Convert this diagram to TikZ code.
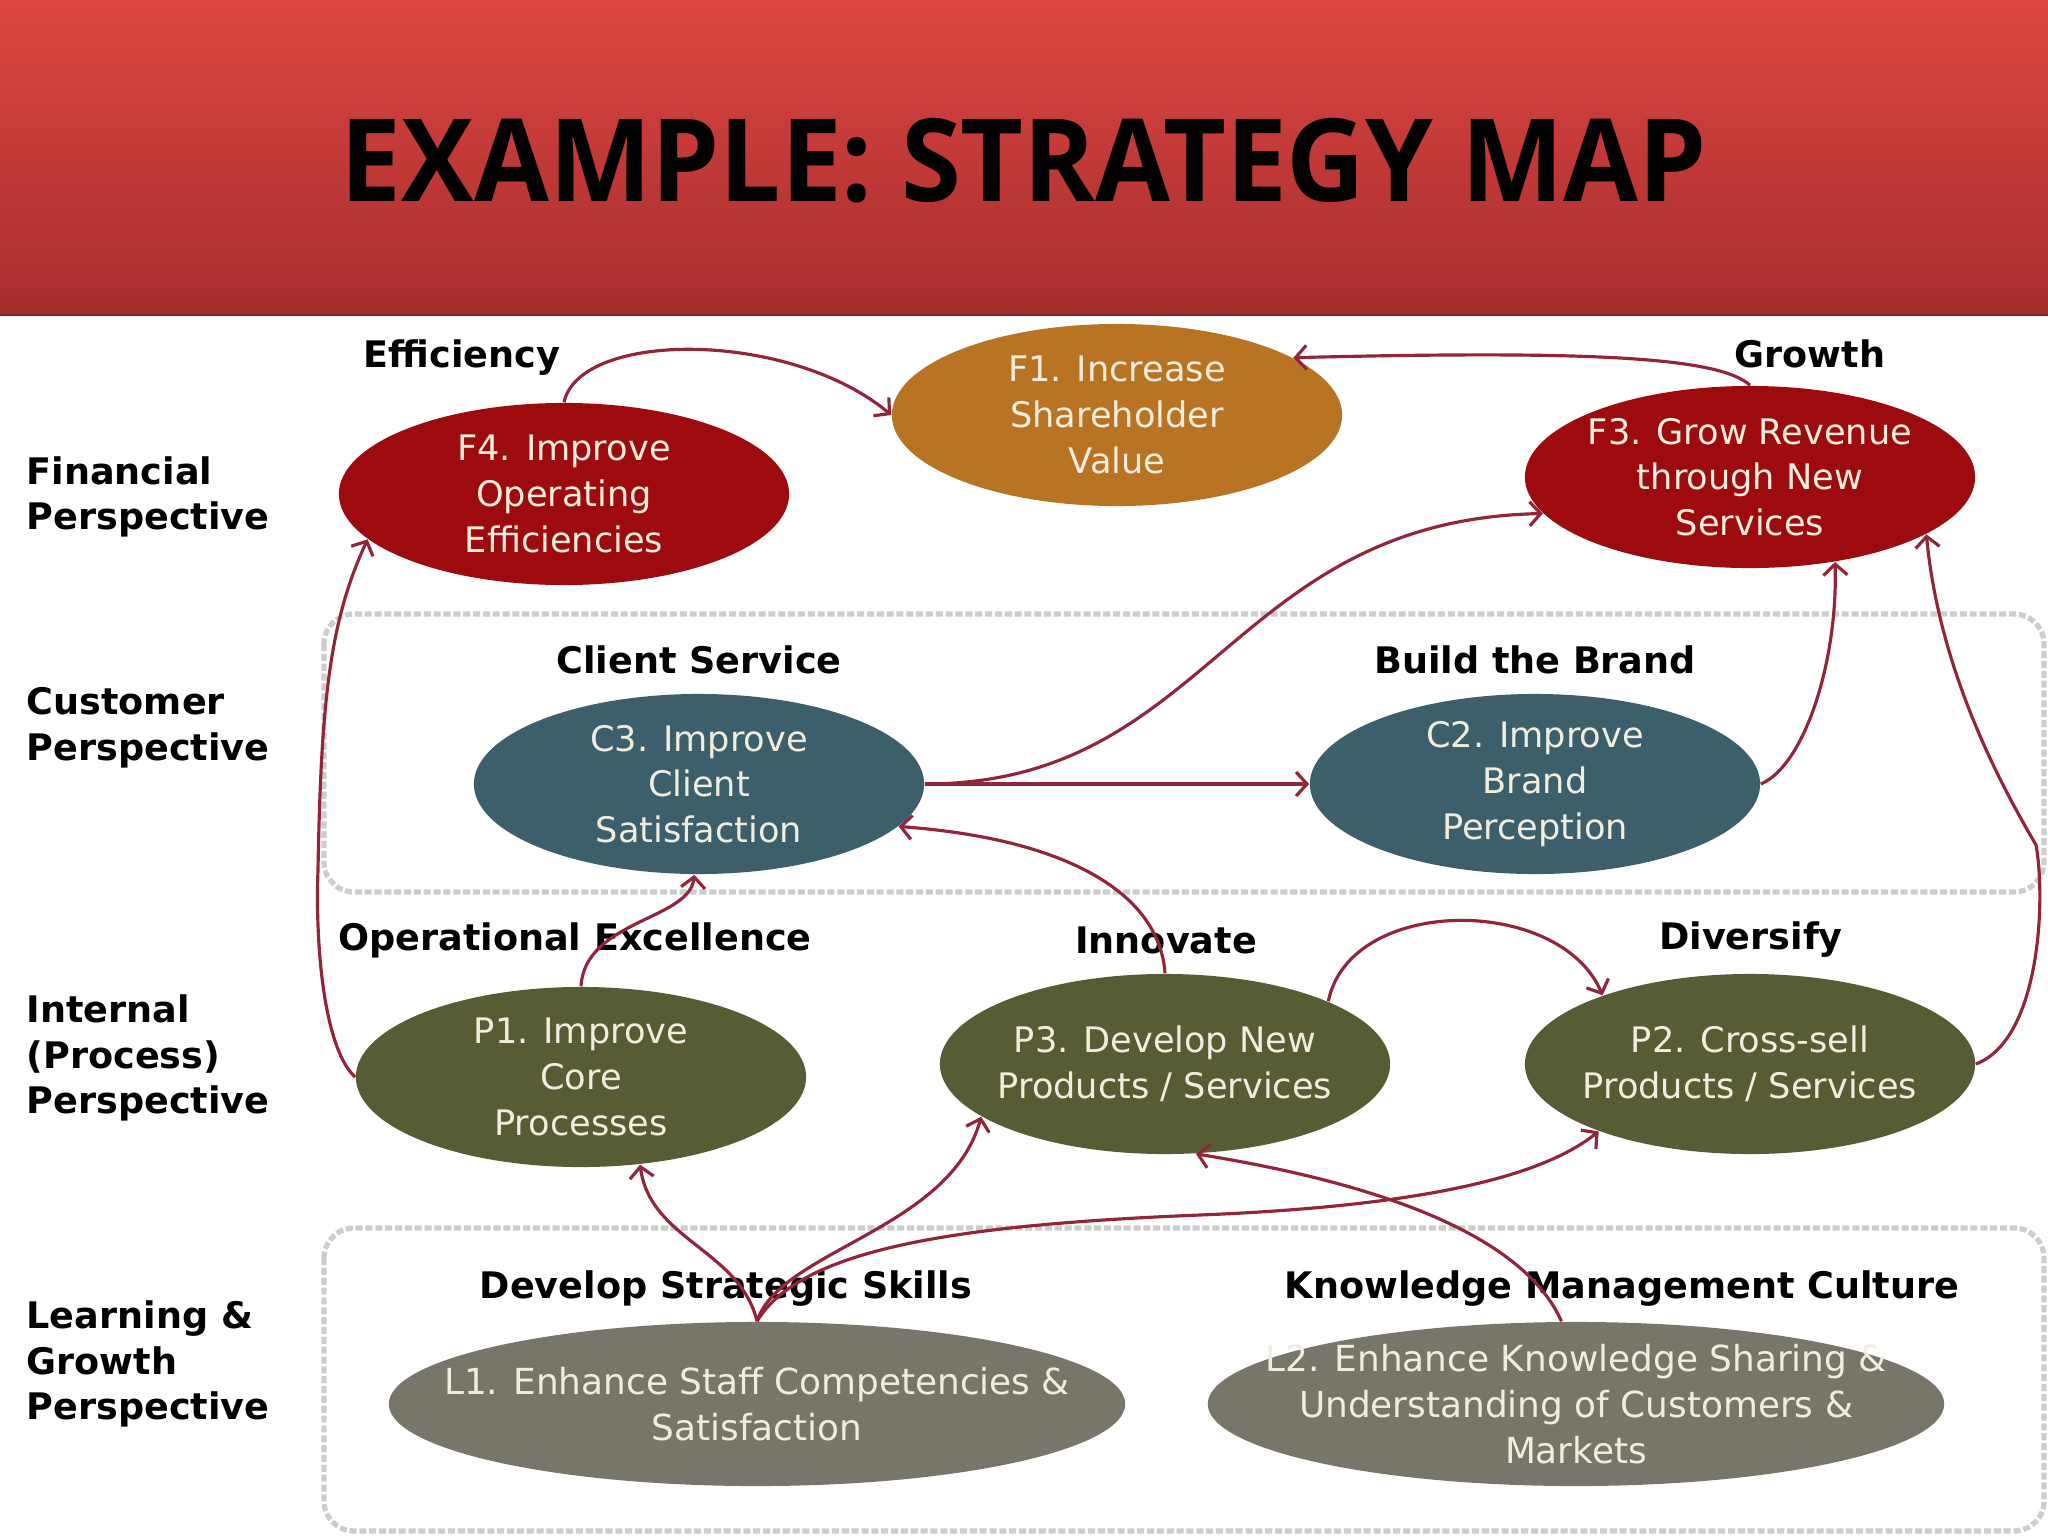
\documentclass[tikz,border=0pt]{standalone}
\usepackage{fontspec}
\setmainfont{DejaVu Sans}
\newfontfamily\titlefont{Open Sans}
\usetikzlibrary{shapes.geometric,arrows.meta}
\definecolor{fred}{RGB}{158,11,15}
\definecolor{fgold}{RGB}{184,115,35}
\definecolor{cteal}{RGB}{61,95,108}
\definecolor{polive}{RGB}{88,92,52}
\definecolor{lgray}{RGB}{120,118,106}
\definecolor{elltext}{RGB}{240,236,222}
\definecolor{connc}{RGB}{145,38,58}
\definecolor{boxc}{RGB}{205,205,205}
\definecolor{bartop}{RGB}{222,70,66}
\definecolor{barbot}{RGB}{165,45,45}
\begin{document}
\begin{tikzpicture}[x=0.01cm,y=-0.01cm,
  ell/.style={ellipse, inner sep=-8pt, text=elltext, align=center, font=\fontsize{10}{13}\selectfont},
  fnode/.style={ell, fill=fred, minimum width=4.5cm, minimum height=1.82cm},
  gnode/.style={ell, fill=fgold, minimum width=4.5cm, minimum height=1.82cm},
  cnode/.style={ell, fill=cteal, minimum width=4.5cm, minimum height=1.8cm},
  pnode/.style={ell, fill=polive, minimum width=4.5cm, minimum height=1.8cm},
  lnode/.style={ell, inner sep=-18pt, fill=lgray, minimum width=7.36cm, minimum height=1.64cm, font=\fontsize{10.2}{13}\selectfont},
  hdr/.style={font=\fontsize{10.4}{13}\selectfont\bfseries, text=black, inner sep=0pt},
  rowlbl/.style={font=\fontsize{10.4}{13}\selectfont\bfseries, text=black, align=left, anchor=west, inner sep=0pt},
  conn/.style={draw=connc, line width=0.9pt, -{Straight Barb[length=1.1mm,width=2.4mm]}},
  pbox/.style={draw=boxc, line width=1.5pt, dash pattern=on 2pt off 0.8pt, rounded corners=0.3cm},
]
\useasboundingbox (0,0) rectangle (2048,1536);
\fill[white] (0,0) rectangle (2048,1536);
% title bar
\shade[top color=bartop, bottom color=barbot] (0,0) rectangle (2048,315);
\draw[barbot!80!black, line width=0.8pt] (0,315) -- (2048,315);
\node[inner sep=0pt] (title) at (1024,161) {\titlefont\bfseries\fontsize{32.7}{36}\selectfont\scalebox{0.945}[1]{EXAMPLE: STRATEGY MAP}};

% perspective boxes
\draw[pbox] (324,614) rectangle (2044,892);
\draw[pbox] (324,1228) rectangle (2044,1531);

% row labels
\node[rowlbl] (rowF) at (26,497) {Financial\\Perspective};
\node[rowlbl] (rowC) at (26,728) {Customer\\Perspective};
\node[rowlbl] (rowP) at (26,1058) {Internal\\(Process)\\Perspective};
\node[rowlbl] (rowL) at (26,1364) {Learning \&\\Growth\\Perspective};

% headers
\node[hdr] (hEff) at (462,358) {Efficiency};
\node[hdr] (hGro) at (1810,354) {Growth};
\node[hdr] (hCli) at (699,660) {Client Service};
\node[hdr] (hBra) at (1535,660) {Build the Brand};
\node[hdr] (hOpe) at (575,940) {Operational Excellence};
\node[hdr] (hInn) at (1166,940) {Innovate};
\node[hdr] (hDiv) at (1751,940) {Diversify};
\node[hdr] (hDev) at (726,1289) {Develop Strategic Skills};
\node[hdr] (hKno) at (1622,1289) {Knowledge Management Culture};

% objectives
\node[fnode] (F4) at (564,494) {F4. Improve\\Operating\\Efficiencies};
\node[gnode] (F1) at (1117,415) {F1. Increase\\Shareholder\\Value};
\node[fnode] (F3) at (1750,477) {F3. Grow Revenue\\through New\\Services};
\node[cnode] (C3) at (699,784) {C3. Improve\\Client\\Satisfaction};
\node[cnode] (C2) at (1535,784) {C2. Improve\\Brand\\Perception};
\node[pnode] (P1) at (581,1077) {P1. Improve\\Core\\Processes};
\node[pnode] (P3) at (1165,1064) {P3. Develop New\\Products / Services};
\node[pnode] (P2) at (1750,1064) {P2. Cross-sell\\Products / Services};
\node[lnode] (L1) at (757,1404) {L1. Enhance Staff Competencies \&\\Satisfaction};
\node[lnode] (L2) at (1576,1404) {L2. Enhance Knowledge Sharing \&\\Understanding of Customers \&\\Markets};

% connectors
\draw[conn] (F4.north) .. controls (580,330) and (790,330) .. (F1.west);
\draw[conn] (F3.north) .. controls (1720,358) and (1600,350) .. (F1.18);
\draw[conn] (C3.east) .. controls (1210,784) and (1230,520) .. (F3.190);
\draw[conn] (C3.east) -- (C2.west);
\draw[conn] (C2.east) .. controls (1805,765) and (1838,660) .. (F3.-45);
\draw[conn] (P2.east) .. controls (2040,1040) and (2046,900) .. (2036,845) .. controls (2010,800) and (1940,680) .. (F3.-18);
\draw[conn] (P1.west) .. controls (325,1050) and (315,950) .. (318,870) .. controls (321,700) and (330,620) .. (F4.193);
\draw[conn] (P1.north) .. controls (585,920) and (690,920) .. (C3.-93);
\draw[conn] (P3.north) .. controls (1160,900) and (1080,840) .. (C3.-12);
\draw[conn] (P3.21) .. controls (1350,895) and (1560,895) .. (P2.155);
\draw[conn] (L1.north) .. controls (740,1250) and (650,1240) .. (P1.-56);
\draw[conn] (L1.north) .. controls (780,1250) and (950,1230) .. (P3.196);
\draw[conn] (L1.north) .. controls (800,1250) and (950,1225) .. (1200,1215) .. controls (1450,1205) and (1550,1170) .. (P2.204);
\draw[conn] (L2.100) .. controls (1530,1250) and (1420,1190) .. (P3.-71);
\end{tikzpicture}
\end{document}
